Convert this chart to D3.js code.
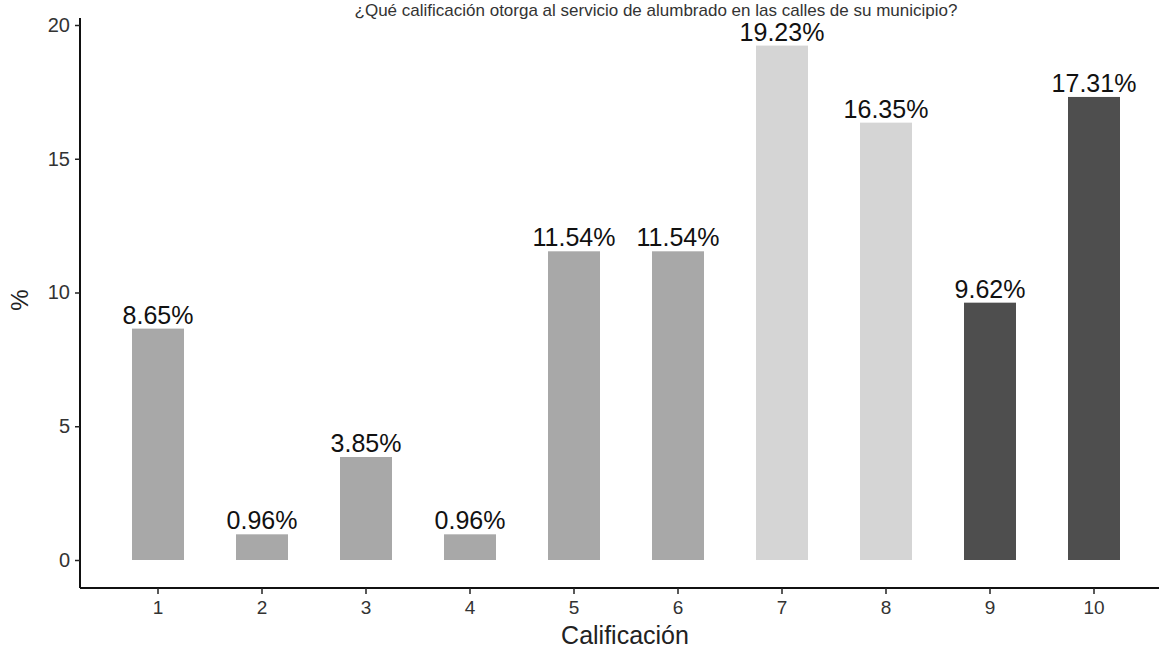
<!DOCTYPE html>
<html><head><meta charset="utf-8">
<script src="https://cdn.jsdelivr.net/npm/d3@7"></script>
<style>body{margin:0;background:#fff;} text{font-family:"Liberation Sans",Arial,sans-serif;}</style>
</head><body><svg id="c" width="1159" height="651"></svg>
<script>
const categories = ["1","2","3","4","5","6","7","8","9","10"];
const values = [8.65, 0.96, 3.85, 0.96, 11.54, 11.54, 19.23, 16.35, 9.62, 17.31];
const labels = ["8.65%","0.96%","3.85%","0.96%","11.54%","11.54%","19.23%","16.35%","9.62%","17.31%"];
const groups = ["mid","mid","mid","mid","mid","mid","light","light","dark","dark"];
const yTicks = [0,5,10,15,20];
const title = "¿Qué calificación otorga al servicio de alumbrado en las calles de su municipio?";

const svg = d3.select("#c");
const color = d3.scaleOrdinal().domain(["mid","light","dark"]).range(["#a8a8a8","#d5d5d5","#4e4e4e"]);
const x = d3.scaleBand().domain(categories).range([106,1146]).paddingInner(0.5).paddingOuter(0.25);
const y = d3.scaleLinear().domain([0,20]).range([560,25]);

svg.append("text").attr("x",656).attr("y",16).attr("text-anchor","middle")
  .attr("font-size",17).attr("fill","#333").text(title);

svg.selectAll("rect.bar").data(values).join("rect")
  .attr("x",(d,i)=>x(categories[i])).attr("width",x.bandwidth())
  .attr("y",d=>y(d)).attr("height",d=>y(0)-y(d))
  .attr("fill",(d,i)=>color(groups[i]));

svg.selectAll("text.lab").data(values).join("text")
  .attr("x",(d,i)=>x(categories[i])+x.bandwidth()/2)
  .attr("y",d=>y(d)-5).attr("text-anchor","middle")
  .attr("font-size",25).attr("fill","#111").text((d,i)=>labels[i]);

const ya = svg.append("g").attr("transform","translate(80,0)")
  .call(d3.axisLeft(y).tickValues(yTicks).tickSize(5).tickPadding(5));
ya.select(".domain").attr("stroke","#111").attr("stroke-width",2).attr("d","M0,18V588");
ya.selectAll(".tick line").attr("stroke","#222").attr("stroke-width",1.5);
ya.selectAll(".tick text").attr("font-size",20).attr("fill","#333").attr("font-family","Liberation Sans, Arial, sans-serif");

const xa = svg.append("g").attr("transform","translate(0,588)")
  .call(d3.axisBottom(x).tickSize(6).tickPadding(7));
xa.select(".domain").attr("stroke","#111").attr("stroke-width",2.2).attr("d","M80,0H1159");
xa.selectAll(".tick line").attr("stroke","#222").attr("stroke-width",1.5);
xa.selectAll(".tick text").attr("font-size",19).attr("fill","#333").attr("font-family","Liberation Sans, Arial, sans-serif");

svg.append("text").attr("x",625).attr("y",644).attr("text-anchor","middle")
  .attr("font-size",25).attr("fill","#222").text("Calificación");
svg.append("text").attr("transform","translate(28,300) rotate(-90)").attr("text-anchor","middle")
  .attr("font-size",24).attr("fill","#222").text("%");
</script></body></html>
